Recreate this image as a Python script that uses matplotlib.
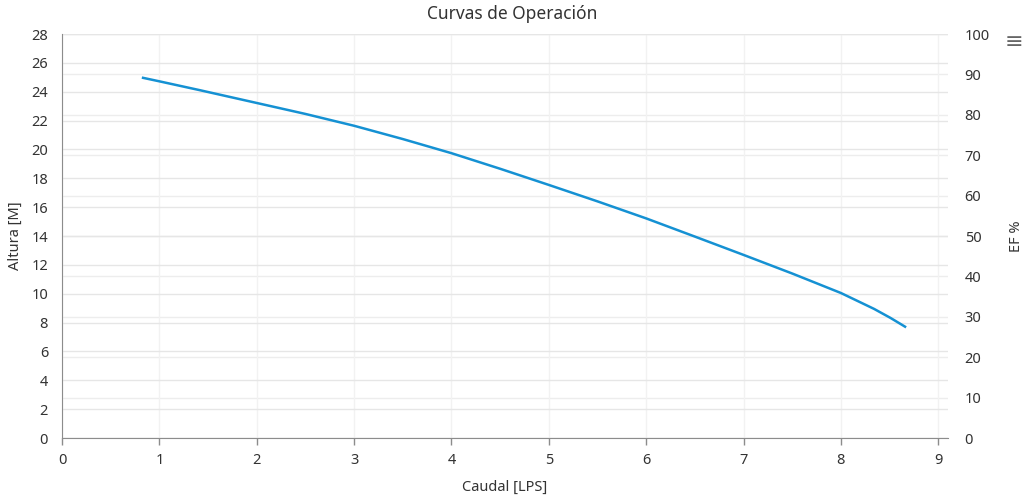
import matplotlib
matplotlib.use("Agg")
import matplotlib.pyplot as plt

caudal = [0.82, 1.0, 1.42, 2.0, 2.5, 3.0, 3.5, 4.0, 4.5, 5.0, 5.5, 6.0, 6.5, 7.0, 7.5, 8.0, 8.34, 8.51, 8.67]
altura = [24.98, 24.72, 24.1, 23.22, 22.46, 21.64, 20.72, 19.74, 18.66, 17.54, 16.4, 15.22, 13.96, 12.69, 11.4, 10.05, 8.95, 8.32, 7.67]
x_ticks = [0, 1, 2, 3, 4, 5, 6, 7, 8, 9]
y_ticks = list(range(0, 29, 2))
ef_ticks = list(range(0, 101, 10))

plt.rcParams['font.family'] = ['Noto Sans', 'DejaVu Sans']

fig = plt.figure(figsize=(10.24, 4.99), dpi=100)
ax = fig.add_axes([62/1024, 61/499, 886/1024, 404/499])
ax2 = ax.twinx()

ax.set_xlim(0, 9.1)
ax.set_ylim(0, 28)
ax2.set_ylim(0, 100)

ax.set_xticks(x_ticks)
ax.set_yticks(y_ticks)
ax2.set_yticks(ef_ticks)

ax.grid(True, axis='y', color='#e6e6e6', linewidth=1)
ax.grid(True, axis='x', color='#f2f2f2', linewidth=1)
ax2.grid(True, axis='y', color='#ededed', linewidth=1)
ax.set_axisbelow(True)
ax2.set_axisbelow(True)

for s in ['top', 'right']:
    ax.spines[s].set_visible(False)
for s in ['top', 'right', 'left', 'bottom']:
    ax2.spines[s].set_visible(False)
ax.spines['left'].set_color('#8c8c8c')
ax.spines['bottom'].set_color('#8c8c8c')

ax.tick_params(axis='x', colors='#333333', direction='out', length=5, width=1, labelsize=10.5, pad=6)
ax.tick_params(axis='x', color='#8c8c8c')
ax.tick_params(axis='y', length=0, labelsize=10.5, labelcolor='#333333', pad=10)
ax2.tick_params(axis='y', length=0, labelsize=10.5, labelcolor='#333333', pad=12)

ax.plot(caudal, altura, color='#1591d3', linewidth=1.8, solid_capstyle='butt',
        solid_joinstyle='round', zorder=5)
ax.set_zorder(ax2.get_zorder() + 1)
ax.patch.set_visible(False)

ax.set_xlabel('Caudal [LPS]', fontsize=10.5, color='#333333', labelpad=8)
ax.set_ylabel('Altura [M]', fontsize=10.5, color='#333333', labelpad=6)
ax2.set_ylabel('EF %', fontsize=10.5, color='#333333', labelpad=14)

fig.text(0.5, 1 - 14/499, 'Curvas de Operación', ha='center', va='center', fontsize=12.5, color='#333333')
fig.text(1014/1024, 1 - 42/499, '≡', ha='center', va='center', fontsize=16, color='#666666')

fig.savefig('out.png', dpi=100)
